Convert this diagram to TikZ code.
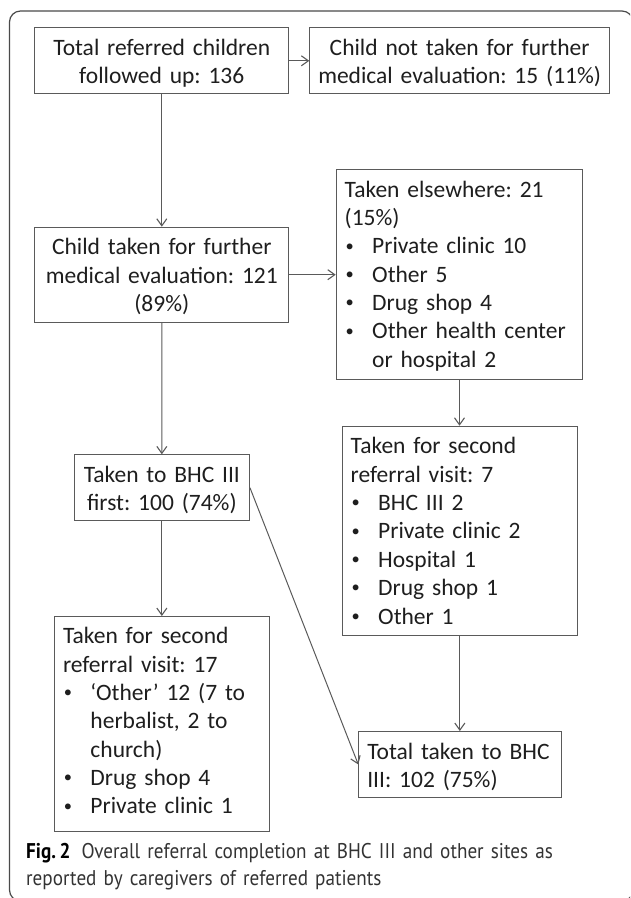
\documentclass[tikz,border=0pt]{standalone}
\usepackage{fontspec}
\setmainfont{Carlito}
\newfontfamily\capfont[FakeStretch=0.9]{PT Sans}
\usetikzlibrary{arrows.meta}
\definecolor{linecol}{HTML}{5A5A5A}
\definecolor{txtcol}{HTML}{1E1E1E}
\definecolor{framecol}{HTML}{4A4A4A}
\definecolor{captxt}{HTML}{333333}
\newcommand\bul{\makebox[27.5pt][l]{\hspace{1pt}\raisebox{0.25ex}{\scalebox{0.7}{•}}}}
\newcommand\ind{\hspace*{27.5pt}}
\frenchspacing
\hyphenpenalty=10000
\begin{document}
\begin{tikzpicture}[x=1pt,y=-1pt,
  box/.style={draw=linecol, line width=1pt, anchor=north west, inner ysep=0pt,
    inner xsep=8.5pt, text height=27.7pt, text=txtcol,
    font=\fontsize{23.5}{28.35}\selectfont},
  arr/.style={draw=linecol, line width=1pt,
    -{Straight Barb[length=7pt,width=10pt,line width=1.1pt]}}]
\useasboundingbox (0,0) rectangle (630,898);
\clip (0,0) rectangle (630,898);
% frame
\draw[framecol, line width=1.2pt, rounded corners=11pt] (9.5,11) rectangle (633,901);
% boxes
\node[box, text width=237pt, align=center, text depth=38.3pt] (b1) at (34.3,27.3)
  {Total referred children\\followed up: 136};
\node[box, inner xsep=1pt, text width=297.7pt, align=center, text depth=38.3pt] (b2) at (309.3,27.3)
  {Child not taken for further\\medical evaluation: 15 (11\%)};
\node[box, text width=237pt, align=center, text depth=67.3pt] (b3) at (34.3,226.7)
  {Child taken for further\\medical evaluation: 121\\(89\%)};
\node[box, text width=229.6pt, align=left, text depth=182.3pt] (b4) at (335.7,169)
  {Taken elsewhere: 21\\(15\%)\\\bul Private clinic 10\\\bul Other 5\\\bul Drug shop 4\\\bul Other health center\\\ind or hospital 2};
\node[box, text width=158.3pt, align=center, text depth=38.3pt] (b5) at (73.7,454.3)
  {Taken to BHC III\\first: 100 (74\%)};
\node[box, text width=218.3pt, align=left, text depth=181.6pt] (b6) at (341.7,425.7)
  {Taken for second\\referral visit: 7\\\bul BHC III 2\\\bul Private clinic 2\\\bul Hospital 1\\\bul Drug shop 1\\\bul Other 1};
\node[box, text width=197.7pt, align=left, text height=27.3pt, text depth=187.7pt] (b7) at (54,616)
  {Taken for second\\referral visit: 17\\\bul ‘Other’ 12 (7 to\\\ind herbalist, 2 to\\\ind church)\\\bul Drug shop 4\\\bul Private clinic 1};
\node[box, text width=185.4pt, align=left, text depth=38.3pt] (b8) at (358.3,731)
  {Total taken to BHC\\III: 102 (75\%)};
% connectors
\draw[arr] (b1.east) -- (b2.west);
\draw[arr] (b1.south) -- (b3.north);
\draw[arr] (b3.east) -- (b3.east -| b4.west);
\draw[arr] (b3.south) -- (b5.north);
\draw[arr] (b4.south) -- (b4.south |- b6.north);
\draw[arr] (b5.south) -- (b7.north);
\draw[arr] (b6.south) -- (b6.south |- b8.north);
\draw[arr] (b5.east) -- (b8.west);
% caption
\node[anchor=base west, inner sep=0pt, text width=600pt, align=left, text=captxt,
  font=\capfont\fontsize{21.3}{27}\selectfont] (cap) at (26,858)
  {{\color{black}\bfseries Fig.\,2}\hspace{11pt}Overall referral completion at BHC III and other sites as\\reported by caregivers of referred patients};
\end{tikzpicture}
\end{document}
